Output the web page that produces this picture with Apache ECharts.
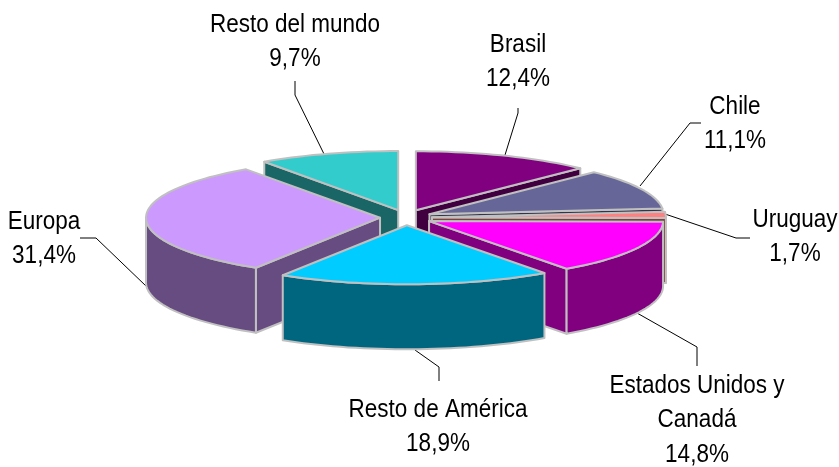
<!doctype html>
<html>
<head>
<meta charset="utf-8">
<title>Pie</title>
<script src="https://cdn.jsdelivr.net/npm/echarts@6/dist/echarts.min.js"></script>
<style>html,body,#app{margin:0;width:839px;height:467px;background:#fff;overflow:hidden}</style>
</head>
<body>
<div id="app"></div>
<script>
// data (share of total, %)
const categories = ["Brasil", "Chile", "Uruguay", "Estados Unidos y\nCanadá", "Resto de América", "Europa", "Resto del mundo"];
const shares = [12.4, 11.1, 1.7, 14.8, 18.9, 31.4, 9.7];
const topColors = ["#800080", "#666699", "#FF8080", "#FF00FF", "#00CCFF", "#CC99FF", "#33CCCC"];
const sideColors = ["#400040", "#33334D", "#804040", "#800080", "#006680", "#664C80", "#1A6666"];
// back to front, painter's order
const drawOrder = [6, 0, 1, 2, 3, 5, 4];

// pie geometry, in pie radii (the axes below map them to the page)
const W = 839, H = 467;
const centerX = 406, centerY = 217.5; // pixels
const radiusX = 234, radiusY = 59; // pixels
const depth = 65 / radiusY;
const explodeX = 0.111, explodeY = 0.132;
const edgeColor = "#C0C0C0";

// label anchors and leader lines, in pixels
const labelX = [518, 735, 795, 697, 438, 44, 295];
const labelY = [45, 107, 220, 386, 410, 222, 25];
const leaders = [
  [[505, 155], [518, 113], [518, 108]],
  [[640, 186], [690, 123], [701, 123]],
  [[665, 214], [736, 238], [750, 238]],
  [[637, 313], [697, 347], [697, 366]],
  [[415, 350], [439, 367], [439, 381]],
  [[146, 286], [96, 238], [80, 238]],
  [[324, 154], [295, 95], [295, 81]],
];

const rad = (d) => (d * Math.PI) / 180;

function sliceShapes(api) {
  const a0 = api.value(0) * 3.6; // start angle, clockwise from 12 o'clock
  const a1 = api.value(1) * 3.6;
  const i = api.value(2);
  const mid = rad((a0 + a1) / 2);
  const ox = explodeX * Math.sin(mid);
  const oy = explodeY * Math.cos(mid);
  const rim = (a, drop) => api.coord([ox + Math.sin(rad(a)), oy + Math.cos(rad(a)) - drop]);
  const apex = (drop) => api.coord([ox, oy - drop]);
  const face = (points, fill) => ({
    type: "polygon",
    shape: { points },
    style: { fill, stroke: edgeColor, lineWidth: 2, lineJoin: "round" },
  });
  const arc = (from, to, drop) => {
    const pts = [];
    const n = Math.max(1, Math.ceil((to - from) / 2));
    for (let k = 0; k <= n; k++) pts.push(rim(from + ((to - from) * k) / n, drop));
    return pts;
  };
  const children = [];
  // radial walls, only when they face the viewer
  if (Math.sin(rad(a0)) < 0) children.push(face([apex(0), rim(a0, 0), rim(a0, depth), apex(depth)], sideColors[i]));
  if (Math.sin(rad(a1)) > 0) children.push(face([apex(0), rim(a1, 0), rim(a1, depth), apex(depth)], sideColors[i]));
  // outer wall, front half only
  const f0 = Math.max(a0, 90), f1 = Math.min(a1, 270);
  if (f1 > f0) children.push(face(arc(f0, f1, 0).concat(arc(f0, f1, depth).reverse()), sideColors[i]));
  // top
  children.push(face([apex(0)].concat(arc(a0, a1, 0)), topColors[i]));
  return { type: "group", children };
}

// cumulative start/end of each slice
const starts = shares.map((_, i) => shares.slice(0, i).reduce((s, v) => s + v, 0));
const sliceData = drawOrder.map((i) => [starts[i], starts[i] + shares[i], i]);

const graphics = [];
categories.forEach((name, i) => {
  graphics.push({
    type: "polyline",
    silent: true,
    shape: { points: leaders[i] },
    style: { stroke: "#000", lineWidth: 1, fill: null },
  });
  const pct = shares[i].toFixed(1).replace(".", ",") + "%";
  name.split("\n").concat(pct).forEach((line, k) => {
    graphics.push({
      type: "text",
      silent: true,
      x: labelX[i],
      y: labelY[i] + k * 34.5,
      scaleY: 1.12, // the reference glyphs are tall and narrow
      style: {
        text: line,
        fill: "#000",
        font: '22.5px "Liberation Sans", Arial, sans-serif',
        textAlign: "center",
        textVerticalAlign: "middle",
      },
    });
  });
});

const chart = echarts.init(document.getElementById("app"), null, { renderer: "canvas" });
chart.setOption({
  animation: false,
  grid: { left: 0, right: 0, top: 0, bottom: 0 },
  xAxis: { type: "value", show: false, min: -centerX / radiusX, max: (W - centerX) / radiusX },
  yAxis: { type: "value", show: false, min: -(H - centerY) / radiusY, max: centerY / radiusY },
  series: [{
    type: "custom",
    coordinateSystem: "cartesian2d",
    silent: true,
    clip: false,
    encode: { x: -1, y: -1 },
    renderItem: (params, api) => sliceShapes(api),
    data: sliceData,
  }],
  graphic: graphics,
});
</script>
</body>
</html>
